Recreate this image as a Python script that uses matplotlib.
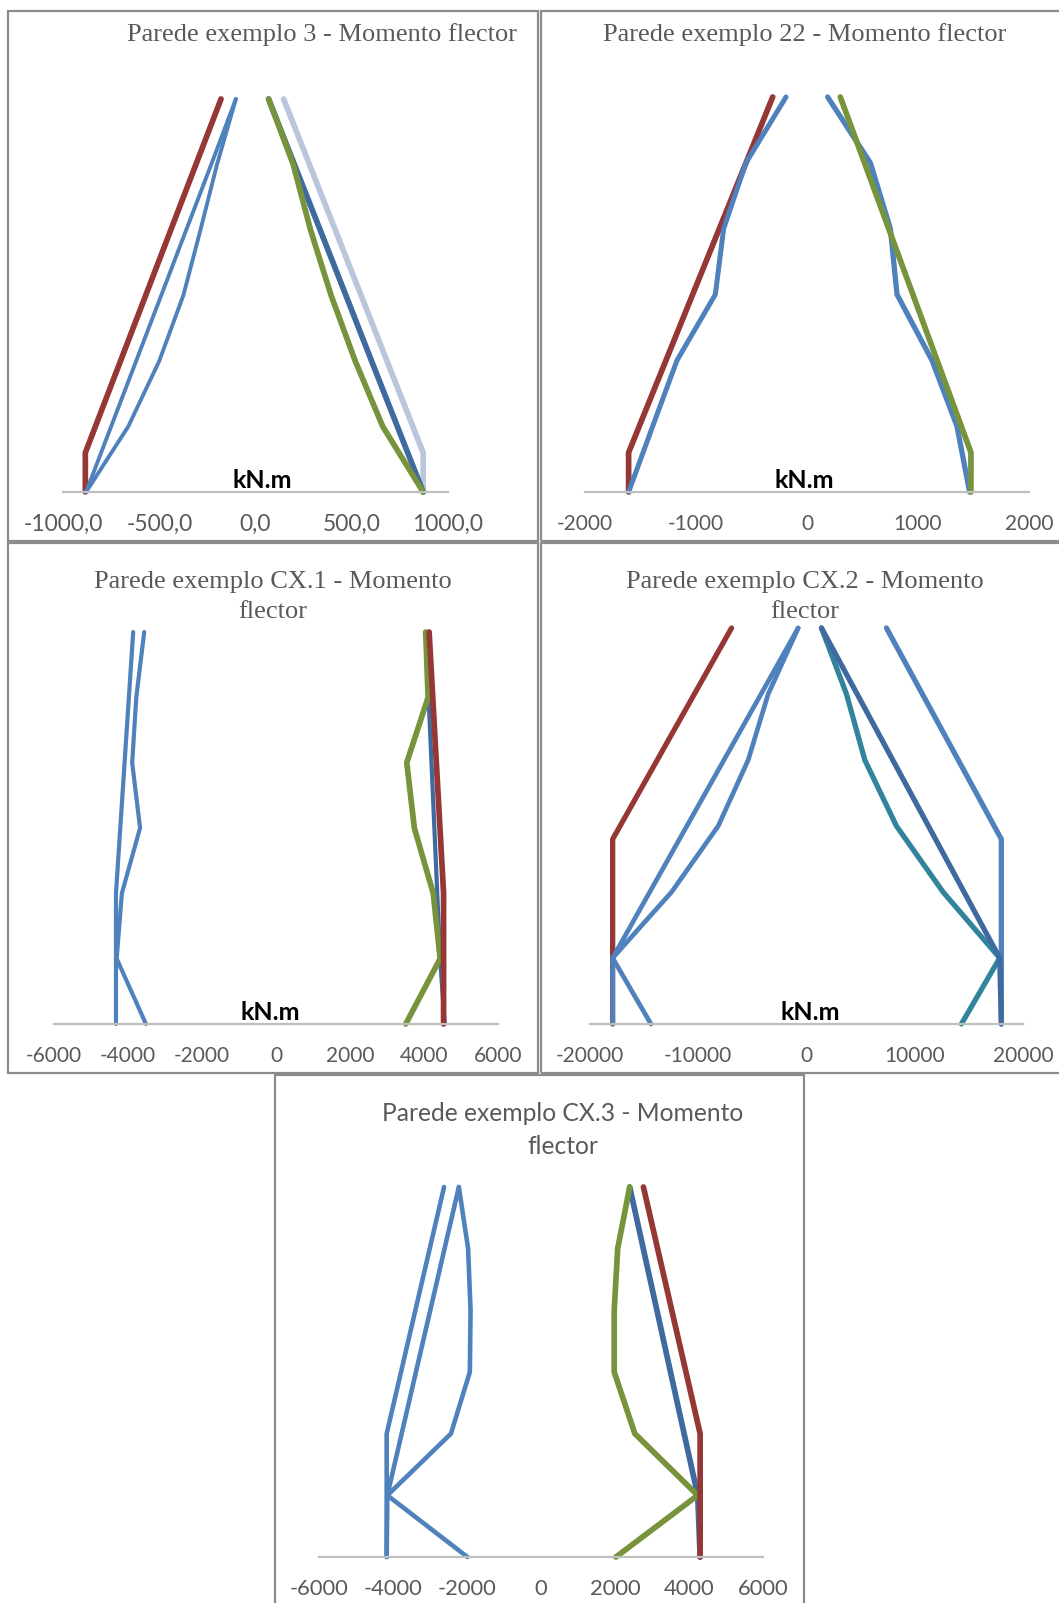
import matplotlib.pyplot as plt
from matplotlib.patches import Rectangle

# heights in storeys (wall with 6 floors)
levels = [0, 1, 2, 3, 4, 5, 6]

# --- Parede exemplo 3
p1_env_h = [0, 0.6, 6]
p1_red = [-884, -884, -179]
p1_blue_a = [-880, -750, -620, -490, -360, -230, -102]
p1_blue_b = [-880, -661, -500, -375, -286, -200, -102]
p1_dark = [871, 737, 603, 470, 336, 202, 68]
p1_green = [871, 661, 518, 393, 286, 196, 68]
p1_light = [871, 871, 146]

# --- Parede exemplo 22
p2_env_h = [0, 0.6, 6]
p2_red = [-1607, -1607, -309]
p2_blue_l = [-1607, -1390, -1171, -826, -751, -550, -189]
p2_blue_r = [1465, 1351, 1126, 811, 751, 571, 186]
p2_green = [1477, 1477, 300]

# --- Parede exemplo CX.1
p3_env_h = [0, 2, 6]
p3_blue_a = [-4325, -4325, -3860]
p3_blue_b = [-3515, -4306, -4166, -3674, -3887, -3776, -3562]
p3_red = [4529, 4529, 4139]
p3_dark = [4560, 4436, 4358, 4280, 4202, 4124, 4046]
p3_green = [3506, 4436, 4250, 3739, 3534, 4111, 4046]

# --- Parede exemplo CX.2
p4_env_h = [0, 2.8, 6]
p4_red = [-17908, -17908, -6923]
p4_blue_a = [-17908, -17908, -14480, -11052, -7625, -4197, -769]
p4_blue_b = [-14369, -17908, -12462, -8154, -5385, -3538, -769]
p4_outer = [18000, 18000, 7385]
p4_dark = [18000, 17846, 14554, 11262, 7970, 4677, 1385]
p4_teal = [14308, 17846, 12615, 8308, 5385, 3692, 1385]

# --- Parede exemplo CX.3
p5_env_h = [0, 2, 6]
p5_blue_env = [-4171, -4171, -2620]
p5_blue_a = [-4171, -4153, -3766, -3380, -2993, -2607, -2220]
p5_blue_b = [-1988, -4153, -2434, -1923, -1904, -1970, -2220]
p5_red = [4301, 4301, 2768]
p5_dark = [4301, 4236, 3868, 3500, 3133, 2765, 2397]
p5_green = [2025, 4236, 2536, 1979, 1979, 2072, 2397]

ticks_p1 = [-1000, -500, 0, 500, 1000]
labels_p1 = ['-1000,0', '-500,0', '0,0', '500,0', '1000,0']
ticks_p2 = [-2000, -1000, 0, 1000, 2000]
ticks_p3 = [-6000, -4000, -2000, 0, 2000, 4000, 6000]
ticks_p4 = [-20000, -10000, 0, 10000, 20000]
ticks_p5 = ticks_p3

RED = '#953735'
BLUE = '#4f81bd'
DARK = '#3f6a9f'
GREEN = '#77933c'
LIGHT = '#b9c6dc'
TEAL = '#31849b'
GREY_TXT = '#595959'

W, H = 1059, 1603
fig = plt.figure(figsize=(W / 100, H / 100), dpi=100)


def px_axes(x0, y0, x1, y1):
    return fig.add_axes([x0 / W, 1 - y1 / H, (x1 - x0) / W, (y1 - y0) / H])


def border(x0, y0, x1, y1):
    fig.add_artist(Rectangle((x0 / W, 1 - y1 / H), (x1 - x0) / W, (y1 - y0) / H,
                             transform=fig.transFigure, fill=False,
                             ec='#8c8c8c', lw=1.6))


def ftext(x, y, s, **kw):
    fig.text(x / W, 1 - y / H, s, ha='center', va='center', **kw)


def setup(ax, ticks, labels, size=15):
    ax.set_xlim(ticks[0], ticks[-1])
    ax.set_ylim(0, 6)
    for side in ['left', 'right', 'top']:
        ax.spines[side].set_visible(False)
    ax.spines['bottom'].set_color('#bfbfbf')
    ax.spines['bottom'].set_linewidth(1.6)
    ax.set_yticks([])
    ax.set_xticks(ticks, labels)
    ax.tick_params(axis='x', length=0, pad=16, labelsize=size, labelcolor=GREY_TXT)
    for t in ax.get_xticklabels():
        t.set_fontfamily('Lato')
    ax.patch.set_alpha(0)


def line(ax, x, y, color, lw):
    ax.plot(x, y, color=color, lw=lw, clip_on=False,
            solid_capstyle='round', solid_joinstyle='round')


# panel frames
border(8, 11, 538, 541)
border(541, 11, 1062, 541)
border(8, 543, 538, 1073)
border(541, 543, 1062, 1073)
border(275, 1075, 804, 1606)

# panel 1
ax = px_axes(63, 99, 448, 492)
setup(ax, ticks_p1, labels_p1, size=16.5)
line(ax, p1_red, p1_env_h, RED, 4.1)
line(ax, p1_blue_a, levels, BLUE, 2.8)
line(ax, p1_blue_b, levels, BLUE, 2.8)
line(ax, p1_light, p1_env_h, LIGHT, 4.1)
line(ax, p1_dark, levels, DARK, 4.1)
line(ax, p1_green, levels, GREEN, 4.1)

# panel 2
ax = px_axes(585, 97, 1029, 492)
setup(ax, ticks_p2, [str(t) for t in ticks_p2])
line(ax, p2_red, p2_env_h, RED, 4.1)
line(ax, p2_blue_l, levels, BLUE, 3.6)
line(ax, p2_blue_r, levels, BLUE, 3.8)
line(ax, p2_green, p2_env_h, GREEN, 4.1)

# panel 3
ax = px_axes(54, 632, 498, 1024)
setup(ax, ticks_p3, [str(t) for t in ticks_p3])
line(ax, p3_blue_a, p3_env_h, BLUE, 3.0)
line(ax, p3_blue_b, levels, BLUE, 3.0)
line(ax, p3_dark, levels, DARK, 3.0)
line(ax, p3_green, levels, GREEN, 4.1)
line(ax, p3_red, p3_env_h, RED, 4.1)

# panel 4
ax = px_axes(590, 628, 1023, 1024)
setup(ax, ticks_p4, [str(t) for t in ticks_p4])
line(ax, p4_red, p4_env_h, RED, 3.8)
line(ax, p4_blue_a, levels, BLUE, 3.4)
line(ax, p4_blue_b, levels, BLUE, 3.4)
line(ax, p4_outer, p4_env_h, BLUE, 3.8)
line(ax, p4_teal, levels, TEAL, 3.8)
line(ax, p4_dark, levels, DARK, 3.8)

# panel 5
ax = px_axes(319, 1187, 763, 1557)
setup(ax, ticks_p5, [str(t) for t in ticks_p5], size=15.8)
line(ax, p5_blue_env, p5_env_h, BLUE, 3.3)
line(ax, p5_blue_a, levels, BLUE, 3.3)
line(ax, p5_blue_b, levels, BLUE, 3.3)
line(ax, p5_dark, levels, DARK, 4.1)
line(ax, p5_green, levels, GREEN, 4.1)
line(ax, p5_red, p5_env_h, RED, 4.1)

# titles
serif = dict(family='Liberation Serif', fontsize=19, color=GREY_TXT)
ftext(322, 35, 'Parede exemplo 3 - Momento flector', **serif)
ftext(805, 35, 'Parede exemplo 22 - Momento flector', **serif)
ftext(273, 597, 'Parede exemplo CX.1 - Momento\nflector', linespacing=1.42, **serif)
ftext(805, 597, 'Parede exemplo CX.2 - Momento\nflector', linespacing=1.42, **serif)
ftext(563, 1130, 'Parede exemplo CX.3 - Momento\nflector', linespacing=1.5,
      family='Lato', fontsize=17.7, color=GREY_TXT)

# unit labels
unit = dict(family='Lato', fontsize=18, fontweight='bold', color='black')
ftext(262, 480, 'kN.m', **unit)
ftext(804, 480, 'kN.m', **unit)
ftext(270, 1013, 'kN.m', **unit)
ftext(810, 1013, 'kN.m', **unit)

fig.savefig('out.png', dpi=100)
